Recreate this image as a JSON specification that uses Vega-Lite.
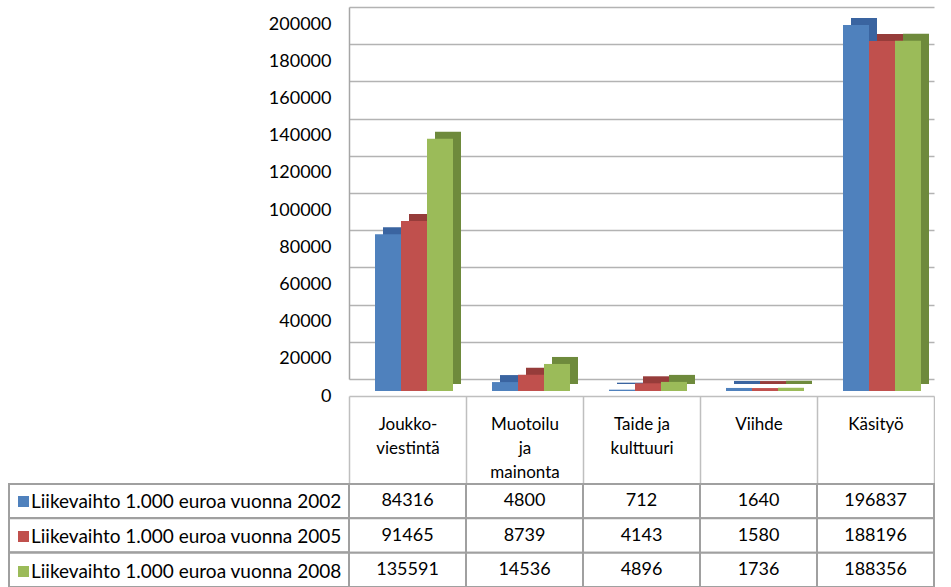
{
  "$schema": "https://vega.github.io/schema/vega-lite/v6.json",
  "padding": {"left": 8, "top": 7, "right": 0, "bottom": 0},
  "background": "white",
  "config": {
    "font": "Lato",
    "view": {"stroke": null},
    "concat": {"spacing": 0}
  },
  "datasets": {
    "t": [
      {"category": "Joukko-viestintä", "series": "Liikevaihto  1.000 euroa vuonna 2002", "value": 84316},
      {"category": "Muotoilu ja mainonta", "series": "Liikevaihto  1.000 euroa vuonna 2002", "value": 4800},
      {"category": "Taide ja kulttuuri", "series": "Liikevaihto  1.000 euroa vuonna 2002", "value": 712},
      {"category": "Viihde", "series": "Liikevaihto  1.000 euroa vuonna 2002", "value": 1640},
      {"category": "Käsityö", "series": "Liikevaihto  1.000 euroa vuonna 2002", "value": 196837},
      {"category": "Joukko-viestintä", "series": "Liikevaihto  1.000 euroa vuonna 2005", "value": 91465},
      {"category": "Muotoilu ja mainonta", "series": "Liikevaihto  1.000 euroa vuonna 2005", "value": 8739},
      {"category": "Taide ja kulttuuri", "series": "Liikevaihto  1.000 euroa vuonna 2005", "value": 4143},
      {"category": "Viihde", "series": "Liikevaihto  1.000 euroa vuonna 2005", "value": 1580},
      {"category": "Käsityö", "series": "Liikevaihto  1.000 euroa vuonna 2005", "value": 188196},
      {"category": "Joukko-viestintä", "series": "Liikevaihto  1.000 euroa vuonna 2008", "value": 135591},
      {"category": "Muotoilu ja mainonta", "series": "Liikevaihto  1.000 euroa vuonna 2008", "value": 14536},
      {"category": "Taide ja kulttuuri", "series": "Liikevaihto  1.000 euroa vuonna 2008", "value": 4896},
      {"category": "Viihde", "series": "Liikevaihto  1.000 euroa vuonna 2008", "value": 1736},
      {"category": "Käsityö", "series": "Liikevaihto  1.000 euroa vuonna 2008", "value": 188356}
    ]
  },
  "columns": 2,
  "bounds": "flush",
  "spacing": {"row": 105, "column": 0},
  "concat": [
    {
      "width": 340,
      "height": 372,
      "data": {"values": []},
      "mark": "text",
      "encoding": {}
    },
    {
      "width": 585,
      "height": 372,
      "data": {"name": "t"},
      "resolve": {"scale": {"xOffset": "independent"}},
      "encoding": {
        "x": {
          "field": "category",
          "type": "nominal",
          "sort": ["Joukko-viestintä", "Muotoilu ja mainonta", "Taide ja kulttuuri", "Viihde", "Käsityö"],
          "scale": {"paddingInner": 0, "paddingOuter": 0},
          "axis": {
            "title": null,
            "orient": "bottom",
            "offset": 17,
            "labelAngle": 0,
            "domain": true,
            "domainColor": "#bfbfbf",
            "domainWidth": 1.5,
            "ticks": true,
            "tickBand": "extent",
            "tickSize": 88,
            "tickColor": "#bfbfbf",
            "tickWidth": 1.5,
            "labelPadding": -68,
            "labelBaseline": "top",
            "labelFontSize": 17,
            "labelColor": "black",
            "labelLineHeight": 24,
            "labelExpr": "datum.label == 'Joukko-viestintä' ? ['Joukko-', 'viestintä'] : datum.label == 'Muotoilu ja mainonta' ? ['Muotoilu', 'ja', 'mainonta'] : datum.label == 'Taide ja kulttuuri' ? ['Taide ja', 'kulttuuri'] : datum.label"
          }
        },
        "y": {
          "field": "value",
          "type": "quantitative",
          "scale": {"domain": [0, 200000], "nice": false},
          "axis": {
            "title": null,
            "values": [0, 20000, 40000, 60000, 80000, 100000, 120000, 140000, 160000, 180000, 200000],
            "format": "d",
            "ticks": false,
            "labelPadding": 18,
            "labelOffset": 17,
            "labelFontSize": 18,
            "labelColor": "black",
            "domainColor": "#a6a6a6",
            "domainWidth": 1.5,
            "grid": true,
            "gridColor": "#b3b3b3",
            "gridWidth": 1.5
          }
        }
      },
      "layer": [
        {
          "mark": {"type": "bar", "yOffset": 5, "y2Offset": 5},
          "encoding": {
            "xOffset": {
              "field": "series",
              "type": "nominal",
              "scale": {"range": [34, 112], "paddingInner": 0, "paddingOuter": 0}
            },
            "fill": {
              "field": "series",
              "type": "nominal",
              "scale": {"range": ["#3a64a0", "#963c3a", "#6e8a3c"]},
              "legend": null
            }
          }
        },
        {
          "mark": {"type": "bar", "yOffset": 12, "y2Offset": 12},
          "encoding": {
            "xOffset": {
              "field": "series",
              "type": "nominal",
              "scale": {"range": [26, 104], "paddingInner": 0, "paddingOuter": 0}
            },
            "color": {
              "field": "series",
              "type": "nominal",
              "scale": {"range": ["#4f81bd", "#c0504d", "#9bbb59"]},
              "legend": {
                "orient": "none",
                "legendX": 5,
                "legendY": 485,
                "title": null,
                "symbolType": "square",
                "symbolSize": 121,
                "symbolStrokeWidth": 0,
                "labelFontSize": 19,
                "labelColor": "black",
                "labelLimit": 0,
                "labelOffset": -2,
                "rowPadding": 15,
                "padding": 0
              }
            }
          }
        }
      ]
    },
    {
      "width": 340,
      "height": 103,
      "data": {"name": "t"},
      "mark": {"type": "rect", "fill": "white", "stroke": "#a0a0a0", "strokeWidth": 2},
      "encoding": {
        "y": {
          "field": "series",
          "type": "nominal",
          "scale": {"paddingInner": 0, "paddingOuter": 0},
          "axis": null
        }
      }
    },
    {
      "width": 585,
      "height": 103,
      "data": {"name": "t"},
      "encoding": {
        "x": {
          "field": "category",
          "type": "nominal",
          "sort": ["Joukko-viestintä", "Muotoilu ja mainonta", "Taide ja kulttuuri", "Viihde", "Käsityö"],
          "scale": {"paddingInner": 0, "paddingOuter": 0},
          "axis": null
        },
        "y": {
          "field": "series",
          "type": "nominal",
          "scale": {"paddingInner": 0, "paddingOuter": 0},
          "axis": null
        }
      },
      "layer": [
        {"mark": {"type": "rect", "fill": "white", "stroke": "#a0a0a0", "strokeWidth": 2}},
        {
          "mark": {"type": "text", "fontSize": 18, "color": "black"},
          "encoding": {"text": {"field": "value", "type": "quantitative", "format": "d"}}
        }
      ]
    }
  ]
}
